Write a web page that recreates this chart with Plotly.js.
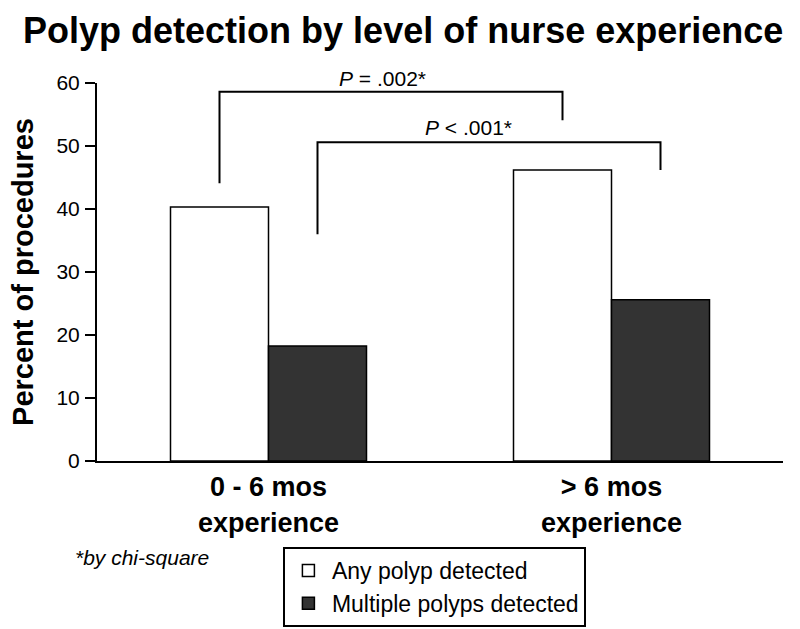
<!DOCTYPE html>
<html>
<head>
<meta charset="utf-8">
<script src="https://cdn.plot.ly/plotly-3.0.1.min.js"></script>
<style>html,body{margin:0;padding:0;background:#fff;}#chart{width:800px;height:629px;}</style>
</head>
<body>
<div id="chart"></div>
<script>
// ---- data ----
const categories = ['0 - 6 mos', '> 6 mos'];
const categorySubLabels = ['experience', 'experience'];
const seriesNames = ['Any polyp detected', 'Multiple polyps detected'];
const anyPolyp = [40.3, 46.2];
const multiplePolyps = [18.25, 25.6];
const yTickValues = [0, 10, 20, 30, 40, 50, 60];
const comparisonLabels = ['<i>P</i> = .002*', '<i>P</i> &lt; .001*'];
const comparisonSeries = [0, 1];          // which series each bracket compares across groups
const bracketTop = [58.6, 50.6];
const bracketLeftEnd = [44.1, 36.0];
const bracketRightEnd = [54.1, 46.2];
const footnote = '*by chi-square';
const titleText = 'Polyp detection by level of nurse experience';
const yTitle = 'Percent of procedures';

// ---- layout helpers ----
const FONT = 'Liberation Sans, Arial, Helvetica, sans-serif';
const bargap = 0.4286;
const xIdx = categories.map((c, i) => i);
const barW = (1 - bargap) / 2;
const seriesOffset = [-barW / 2, barW / 2];
const tickText = categories.map((c, i) => c + '<br>' + categorySubLabels[i]);

const traces = [
  {type: 'bar', name: seriesNames[0], x: xIdx, y: anyPolyp,
   marker: {color: '#ffffff', line: {color: '#000', width: 1.5}}},
  {type: 'bar', name: seriesNames[1], x: xIdx, y: multiplePolyps,
   marker: {color: '#333333', line: {color: '#000', width: 1.5}}}
];

const shapes = [];
const annotations = [];
comparisonSeries.forEach((s, k) => {
  const x0 = xIdx[0] + seriesOffset[s];
  const x1 = xIdx[1] + seriesOffset[s];
  shapes.push({type: 'path', xref: 'x', yref: 'y',
    path: `M${x0},${bracketLeftEnd[k]} L${x0},${bracketTop[k]} L${x1},${bracketTop[k]} L${x1},${bracketRightEnd[k]}`,
    line: {color: '#000', width: 2}});
  annotations.push({xref: 'x', yref: 'y', x: (x0 + x1) / 2, y: bracketTop[k],
    text: comparisonLabels[k], showarrow: false, xanchor: 'center', yanchor: 'middle',
    xshift: k === 0 ? -9 : -21, yshift: k === 0 ? 13 : 15,
    font: {family: FONT, size: 21, color: '#000'}});
});
annotations.push({xref: 'paper', yref: 'paper', x: -0.035, y: -0.2566, text: '<i>' + footnote + '</i>',
  showarrow: false, xanchor: 'left', yanchor: 'middle',
  font: {family: FONT, size: 21, color: '#000'}});

const layout = {
  width: 800, height: 629,
  margin: {l: 97, r: 17, t: 83, b: 168, autoexpand: false},
  paper_bgcolor: '#fff', plot_bgcolor: '#fff',
  font: {family: FONT, color: '#000'},
  title: {text: titleText, x: 0.504, xanchor: 'center', y: 0.951, yanchor: 'middle', yref: 'container',
          font: {family: FONT, size: 36, color: '#000', weight: 'bold'}},
  barmode: 'group', bargap: bargap, bargroupgap: 0,
  xaxis: {type: 'linear', range: [-0.5, 1.5], tickvals: xIdx, ticktext: tickText, automargin: false,
          showline: true, linecolor: '#000', linewidth: 2, ticks: '', showgrid: false, zeroline: false,
          ticklabelstandoff: 1,
          tickfont: {family: FONT, size: 27, color: '#000', weight: 'bold'}, fixedrange: true},
  yaxis: {range: [0, 60], tickvals: yTickValues, showline: true, linecolor: '#000', linewidth: 2, automargin: false,
          ticks: 'outside', ticklen: 10, tickwidth: 2, tickcolor: '#000', showgrid: false, zeroline: false,
          ticklabelstandoff: 1,
          tickfont: {family: FONT, size: 21, color: '#000'},
          title: {text: yTitle, standoff: 14, font: {family: FONT, size: 29, color: '#000', weight: 'bold'}}},
  showlegend: true,
  legend: {x: 0.271, y: -0.2275, xanchor: 'left', yanchor: 'top', orientation: 'v',
           bordercolor: '#000', borderwidth: 2, bgcolor: '#fff', itemwidth: 37,
           font: {family: FONT, size: 23, color: '#000'}, traceorder: 'normal'},
  shapes: shapes,
  annotations: annotations
};

Plotly.newPlot('chart', traces, layout, {displayModeBar: false, staticPlot: true});
</script>
</body>
</html>
